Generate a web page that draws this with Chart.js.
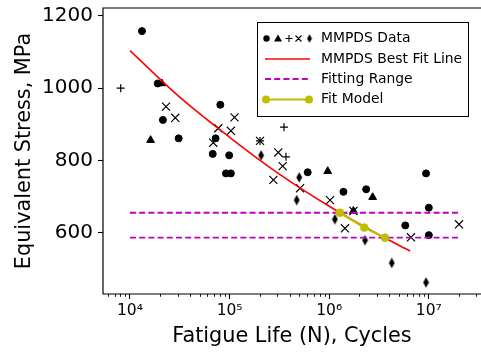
<!DOCTYPE html>
<html>
<head>
<meta charset="utf-8">
<script src="https://cdn.jsdelivr.net/npm/chart.js@4.4.0/dist/chart.umd.min.js"></script>
<style>
  html, body { margin: 0; padding: 0; background: #fff; overflow: hidden; }
  #wrap { width: 481px; height: 352px; }
</style>
</head>
<body>
<div id="wrap"><canvas id="fatigueChart"></canvas></div>
<script>
// MMPDS scatter data (life in cycles, stress in MPa)
const circleLife = [1.32e4, 1.9e4, 2.14e4, 3.08e4, 8.07e4, 7.24e4, 6.77e4, 9.9e4, 9.2e4, 1.03e5, 6.08e5, 1.39e6, 2.35e6, 9.38e6, 1.0e7, 5.8e6, 1.0e7]
const circleStress = [1158, 1013, 912, 861, 954, 861, 818, 814, 764, 764, 767, 713, 720, 764, 669, 620, 593]
const triangleLife = [1.61e4, 2.09e4, 9.66e5, 2.73e6, 1.75e6]
const triangleStress = [856, 1013, 770, 698, 660]
const plusLife = [8.07e3, 3.52e5, 3.68e5, 2.02e5]
const plusStress = [1000, 892, 810, 854]
const crossLife = [2.3e4, 2.85e4, 1.12e5, 7.7e4, 1.03e5, 6.86e4, 2.02e5, 3.08e5, 3.41e5, 2.75e5, 5.1e5, 1.02e6, 1.44e6, 1.75e6, 6.62e6, 2.01e7]
const crossStress = [949, 918, 919, 889, 882, 849, 854, 822, 784, 746, 723, 690, 612, 660, 587, 623]
const diamondLife = [2.07e5, 5.0e5, 4.72e5, 1.14e6, 2.29e6, 4.25e6, 9.38e6]
const diamondStress = [814, 753, 690, 637, 579, 516, 462]

// MMPDS best fit curve
const bestFitLife = [1e4, 3.16e4, 1e5, 3.16e5, 1e6, 3.16e6, 6.5e6]
const bestFitStress = [1104, 975, 864, 762, 673, 594, 549]

// fitting range (two horizontal bounds)
const rangeLife = [1e4, 2e7]
const rangeUpper = [655, 655]
const rangeLower = [586, 586]

// fit model
const modelLife = [1.28e6, 2.25e6, 3.63e6]
const modelStress = [655, 614, 586]

// axes
const xTickValues = [1e4, 1e5, 1e6, 1e7]
const xTickLabels = ['10⁴', '10⁵', '10⁶', '10⁷']
const yTickValues = [600, 800, 1000, 1200]
const legendLabels = ['MMPDS Data', 'MMPDS Best Fit Line', 'Fitting Range', 'Fit Model']

const FONT = "'DejaVu Sans', sans-serif"
const RED = '#ff0000'
const MAGENTA = '#bf00bf'
const OLIVE = '#bfbf00'

function toPoints(xs, ys) {
  return xs.map((x, i) => ({ x: x, y: ys[i] }))
}

// matplotlib style thin diamond marker
function makeDiamond(w, h) {
  const c = document.createElement('canvas')
  c.width = w
  c.height = h
  const g = c.getContext('2d')
  g.fillStyle = '#000'
  g.beginPath()
  g.moveTo(w / 2, 0.3)
  g.lineTo(w - 0.6, h / 2)
  g.lineTo(w / 2, h - 0.3)
  g.lineTo(0.6, h / 2)
  g.closePath()
  g.fill()
  return c
}
const diamondMarker = makeDiamond(7, 11)

function markerSet(xs, ys, style, radius, extra) {
  return Object.assign({
    data: toPoints(xs, ys),
    pointStyle: style,
    pointRadius: radius,
    pointBackgroundColor: '#000',
    pointBorderColor: '#000',
    pointBorderWidth: 1.2,
    showLine: false,
    order: 5
  }, extra || {})
}

// frame, minor ticks on the log axis, legend
const decorPlugin = {
  id: 'decor',
  afterDraw(chart) {
    const ctx = chart.ctx
    const a = chart.chartArea
    const xs = chart.scales.x
    ctx.save()

    // minor ticks (can run past the clipped right edge)
    ctx.strokeStyle = '#000'
    ctx.lineWidth = 0.9
    for (let e = 3; e <= 7; e++) {
      for (let k = 2; k <= 9; k++) {
        const v = k * Math.pow(10, e)
        if (v < xs.min) continue
        const px = Math.round(xs.getPixelForValue(v)) + 0.5
        ctx.beginPath()
        ctx.moveTo(px, a.bottom)
        ctx.lineTo(px, a.bottom + 2.8)
        ctx.stroke()
      }
    }

    // axes frame: left, top, bottom (right spine is off the image)
    ctx.lineWidth = 1.2
    ctx.beginPath()
    ctx.moveTo(chart.width + 2, a.top)
    ctx.lineTo(a.left, a.top)
    ctx.lineTo(a.left, a.bottom)
    ctx.lineTo(chart.width + 2, a.bottom)
    ctx.stroke()

    // legend
    const bx = 257.5, by = 22.5, bw = 211, bh = 94
    ctx.fillStyle = 'rgba(255,255,255,0.9)'
    ctx.fillRect(bx, by, bw, bh)
    ctx.strokeStyle = '#000'
    ctx.lineWidth = 1
    ctx.strokeRect(bx, by, bw, bh)

    const rows = [38.5, 59, 79, 99.5]
    const hx0 = 265, hx1 = 310

    // row 0: data markers
    ctx.fillStyle = '#000'
    ctx.beginPath()
    ctx.arc(266.5, rows[0], 3.2, 0, Math.PI * 2)
    ctx.fill()
    ctx.beginPath()
    ctx.moveTo(278, rows[0] - 4)
    ctx.lineTo(282, rows[0] + 3)
    ctx.lineTo(274, rows[0] + 3)
    ctx.closePath()
    ctx.fill()
    ctx.lineWidth = 1.1
    ctx.beginPath()
    ctx.moveTo(285.5, rows[0]); ctx.lineTo(292.5, rows[0])
    ctx.moveTo(289, rows[0] - 3.5); ctx.lineTo(289, rows[0] + 3.5)
    ctx.moveTo(295.5, rows[0] - 3); ctx.lineTo(301.5, rows[0] + 3)
    ctx.moveTo(301.5, rows[0] - 3); ctx.lineTo(295.5, rows[0] + 3)
    ctx.stroke()
    ctx.drawImage(makeDiamond(6, 9), 306.5, rows[0] - 4.5)

    // row 1: best fit line
    ctx.strokeStyle = RED
    ctx.lineWidth = 1.6
    ctx.beginPath()
    ctx.moveTo(hx0, rows[1]); ctx.lineTo(hx1, rows[1])
    ctx.stroke()

    // row 2: dashed range
    ctx.strokeStyle = MAGENTA
    ctx.lineWidth = 1.8
    ctx.setLineDash([6, 3.2])
    ctx.beginPath()
    ctx.moveTo(hx0, rows[2]); ctx.lineTo(hx1, rows[2])
    ctx.stroke()
    ctx.setLineDash([])

    // row 3: fit model
    ctx.strokeStyle = OLIVE
    ctx.fillStyle = OLIVE
    ctx.lineWidth = 2
    ctx.beginPath()
    ctx.moveTo(hx0 + 1, rows[3]); ctx.lineTo(hx1 - 1, rows[3])
    ctx.stroke()
    ;[hx0 + 1, hx1 - 1].forEach(px => {
      ctx.beginPath()
      ctx.arc(px, rows[3], 4, 0, Math.PI * 2)
      ctx.fill()
    })

    ctx.fillStyle = '#000'
    ctx.font = '13.9px ' + FONT
    ctx.textBaseline = 'middle'
    ctx.textAlign = 'left'
    legendLabels.forEach((t, i) => ctx.fillText(t, 321, rows[i]))

    ctx.restore()
  }
}

const ctx = document.getElementById('fatigueChart')
new Chart(ctx, {
  type: 'scatter',
  data: {
    datasets: [
      markerSet(circleLife, circleStress, 'circle', 3.5, { pointBorderWidth: 1 }),
      markerSet(triangleLife, triangleStress, 'triangle', 4.5, { pointBorderWidth: 1 }),
      markerSet(plusLife, plusStress, 'cross', 4),
      markerSet(crossLife, crossStress, 'crossRot', 5.7),
      markerSet(diamondLife, diamondStress, diamondMarker, 5),
      {
        data: toPoints(bestFitLife, bestFitStress),
        showLine: true,
        borderColor: RED,
        borderWidth: 1.6,
        pointRadius: 0,
        cubicInterpolationMode: 'monotone',
        order: 3
      },
      {
        data: toPoints(rangeLife, rangeUpper),
        showLine: true,
        borderColor: MAGENTA,
        borderWidth: 1.8,
        borderDash: [6, 3.2],
        pointRadius: 0,
        order: 2
      },
      {
        data: toPoints(rangeLife, rangeLower),
        showLine: true,
        borderColor: MAGENTA,
        borderWidth: 1.8,
        borderDash: [6, 3.2],
        pointRadius: 0,
        order: 2
      },
      {
        data: toPoints(modelLife, modelStress),
        showLine: true,
        borderColor: OLIVE,
        borderWidth: 2.2,
        pointRadius: 3.9,
        pointBorderWidth: 0.8,
        pointBackgroundColor: OLIVE,
        pointBorderColor: OLIVE,
        order: 0
      }
    ]
  },
  options: {
    responsive: true,
    maintainAspectRatio: false,
    animation: false,
    events: [],
    layout: { autoPadding: false, padding: { top: 8, right: 0, left: 0, bottom: 0 } },
    plugins: {
      legend: { display: false },
      tooltip: { enabled: false }
    },
    scales: {
      x: {
        type: 'logarithmic',
        position: 'bottom',
        min: 5360,
        max: 3.34e7,
        border: { display: false },
        grid: {
          drawOnChartArea: false,
          drawTicks: true,
          tickLength: 5,
          tickWidth: 1.1,
          tickColor: '#000'
        },
        afterBuildTicks: scale => {
          scale.ticks = xTickValues.map(v => ({ value: v }))
        },
        ticks: {
          autoSkip: false,
          maxRotation: 0,
          padding: 3,
          color: '#000',
          font: { family: FONT, size: 15.5 },
          callback: (value, i) => xTickLabels[i]
        },
        title: {
          display: true,
          text: 'Fatigue Life (N), Cycles',
          color: '#000',
          font: { family: FONT, size: 20.8 },
          padding: { top: 0, bottom: 2.5 }
        },
        afterFit: scale => {
          scale.height = 58
          scale.paddingLeft = 0
          scale.paddingRight = 0
        }
      },
      y: {
        type: 'linear',
        min: 430,
        max: 1222,
        border: { display: false },
        grid: {
          drawOnChartArea: false,
          drawTicks: true,
          tickLength: 5,
          tickWidth: 1.1,
          tickColor: '#000'
        },
        afterBuildTicks: scale => {
          scale.ticks = yTickValues.map(v => ({ value: v }))
        },
        ticks: {
          padding: 5,
          color: '#000',
          font: { family: FONT, size: 20 },
          callback: value => String(value)
        },
        title: {
          display: true,
          text: 'Equivalent Stress, MPa',
          color: '#000',
          font: { family: FONT, size: 20.8 },
          padding: { top: 12.5, bottom: 0 }
        },
        afterFit: scale => {
          scale.width = 103
          scale.paddingTop = 0
          scale.paddingBottom = 0
        }
      }
    }
  },
  plugins: [decorPlugin]
})
</script>
</body>
</html>
